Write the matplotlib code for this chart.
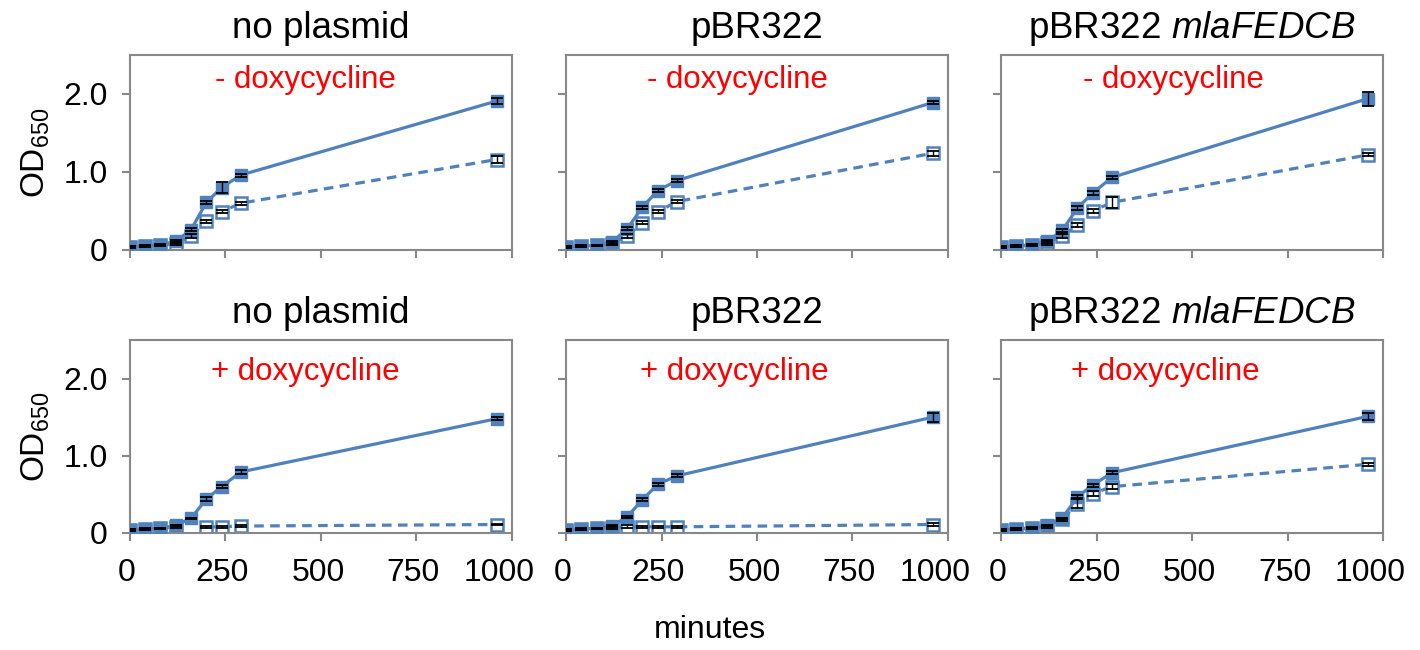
import numpy as np
import matplotlib
matplotlib.use("Agg")
import matplotlib.pyplot as plt
import matplotlib.transforms as mtransforms

plt.rcParams['font.family'] = ['Liberation Sans', 'DejaVu Sans']
plt.rcParams['mathtext.fontset'] = 'custom'
plt.rcParams['mathtext.rm'] = 'Liberation Sans'
plt.rcParams['mathtext.it'] = 'Liberation Sans:italic'

# time points (minutes)
minutes = [0, 40, 80, 120, 160, 200, 240, 290, 960]

titles = ['no plasmid', 'pBR322', r'pBR322 $\it{mlaFEDCB}$']
conditions = ['- doxycycline', '+ doxycycline']
x_ticks = [0, 250, 500, 750, 1000]
x_labels = ['0', '250', '500', '750', '1000']

# OD650, solid = filled squares, dashed = open squares
nan = np.nan
solid_minus = [
    [0.04, 0.05, 0.07, 0.11, 0.26, 0.61, 0.80, 0.96, 1.91],
    [0.04, 0.05, 0.06, 0.10, 0.27, 0.55, 0.76, 0.89, 1.89],
    [0.04, 0.05, 0.07, 0.11, 0.25, 0.54, 0.73, 0.93, 1.94],
]
dashed_minus = [
    [0.04, 0.05, 0.06, 0.08, 0.18, 0.37, 0.49, 0.60, 1.16],
    [0.04, 0.05, 0.06, 0.08, 0.18, 0.35, 0.49, 0.62, 1.24],
    [0.04, 0.05, 0.06, 0.09, 0.18, 0.32, 0.50, 0.61, 1.22],
]
solid_plus = [
    [0.04, 0.05, 0.06, 0.10, 0.19, 0.44, 0.60, 0.79, 1.48],
    [0.04, 0.05, 0.06, 0.09, 0.21, 0.43, 0.63, 0.74, 1.50],
    [0.04, 0.05, 0.07, 0.10, 0.19, 0.47, 0.62, 0.78, 1.51],
]
dashed_plus = [
    [0.04, 0.05, 0.06, 0.08, nan, 0.08, 0.08, 0.09, 0.11],
    [0.04, 0.05, 0.06, 0.07, 0.08, 0.08, 0.08, 0.08, 0.11],
    [0.04, 0.05, 0.06, 0.09, 0.18, 0.38, 0.51, 0.60, 0.89],
]

# error bars
err_solid_minus = [
    [0.01, 0.01, 0.01, 0.02, 0.02, 0.02, 0.07, 0.02, 0.04],
    [0.01, 0.01, 0.01, 0.02, 0.02, 0.02, 0.02, 0.02, 0.02],
    [0.01, 0.01, 0.01, 0.02, 0.02, 0.03, 0.02, 0.02, 0.09],
]
err_dashed_minus = [
    [0.01, 0.01, 0.01, 0.02, 0.02, 0.02, 0.02, 0.02, 0.05],
    [0.01, 0.01, 0.01, 0.02, 0.02, 0.02, 0.02, 0.02, 0.03],
    [0.01, 0.01, 0.01, 0.02, 0.02, 0.02, 0.03, 0.07, 0.02],
]
err_solid_plus = [
    [0.01, 0.01, 0.01, 0.01, 0.01, 0.02, 0.02, 0.02, 0.02],
    [0.01, 0.01, 0.01, 0.01, 0.01, 0.02, 0.02, 0.02, 0.06],
    [0.01, 0.01, 0.01, 0.01, 0.01, 0.02, 0.02, 0.02, 0.05],
]
err_dashed_plus = [
    [0.01, 0.01, 0.01, 0.02, 0.0, 0.01, 0.01, 0.01, 0.01],
    [0.01, 0.01, 0.01, 0.02, 0.02, 0.01, 0.01, 0.01, 0.02],
    [0.01, 0.01, 0.01, 0.02, 0.02, 0.06, 0.03, 0.03, 0.02],
]

blue = '#4F81BD'
grey = '#888888'

fig = plt.figure(figsize=(14.2, 6.5), dpi=100)

lefts = [0.0915, 0.3986, 0.705]
width = 0.269
rows = [(0.6154, 0.300), (0.18, 0.297)]
text_x = [[0.46, 0.45, 0.45], [0.46, 0.44, 0.43]]
text_y = [0.87, 0.835]

data = [(solid_minus, dashed_minus, err_solid_minus, err_dashed_minus),
        (solid_plus, dashed_plus, err_solid_plus, err_dashed_plus)]

for r, (bottom, height) in enumerate(rows):
    solid, dashed, es, ed = data[r]
    for c, left in enumerate(lefts):
        ax = fig.add_axes([left, bottom, width, height])
        # lines + markers
        ax.plot(minutes, dashed[c], color=blue, lw=2.3, ls=(0, (3, 2)),
                marker='s', ms=8.5, mfc='white', mec=blue, mew=1.8, zorder=2)
        ax.plot(minutes, solid[c], color=blue, lw=2.3,
                marker='s', ms=8.5, mfc=blue, mec=blue, zorder=3)
        # black error bars on top
        ax.errorbar(minutes, dashed[c], yerr=ed[c], fmt='none', ecolor='black',
                    elinewidth=1.0, capsize=4.5, capthick=1.3, zorder=4)
        ax.errorbar(minutes, solid[c], yerr=es[c], fmt='none', ecolor='black',
                    elinewidth=1.0, capsize=4.5, capthick=1.3, zorder=5)
        ax.set_xlim(0, 1000)
        ax.set_ylim(0, 2.5)
        ax.set_xticks(x_ticks)
        ax.set_yticks([0, 1, 2])
        for s in ax.spines.values():
            s.set_color(grey)
            s.set_linewidth(1.5)
        ax.tick_params(color=grey, width=1.5, length=6, labelsize=23,
                       direction='out')
        ax.tick_params(axis='x', pad=12)
        ax.tick_params(axis='y', pad=10)
        if r == 0:
            ax.set_xticklabels([])
        else:
            ax.set_xticklabels(x_labels)
            for i, lab in enumerate(ax.get_xticklabels()):
                dx = -13 if i == len(x_labels) - 1 else -3
                lab.set_transform(lab.get_transform() +
                                  mtransforms.ScaledTranslation(dx / 100, 0, fig.dpi_scale_trans))
        if c == 0:
            ax.set_yticklabels(['0', '1.0', '2.0'])
            ax.set_ylabel(r'OD$_{650}$', fontsize=24, labelpad=8)
        else:
            ax.set_yticklabels([])
        ax.set_title(titles[c], fontsize=26.5, pad=12)
        ax.text(text_x[r][c], text_y[r], conditions[r], color='red',
                fontsize=22.5, ha='center', va='center', transform=ax.transAxes)

fig.text(0.5, 0.03, 'minutes', ha='center', va='center', fontsize=23)

fig.savefig('out.png', dpi=100)
